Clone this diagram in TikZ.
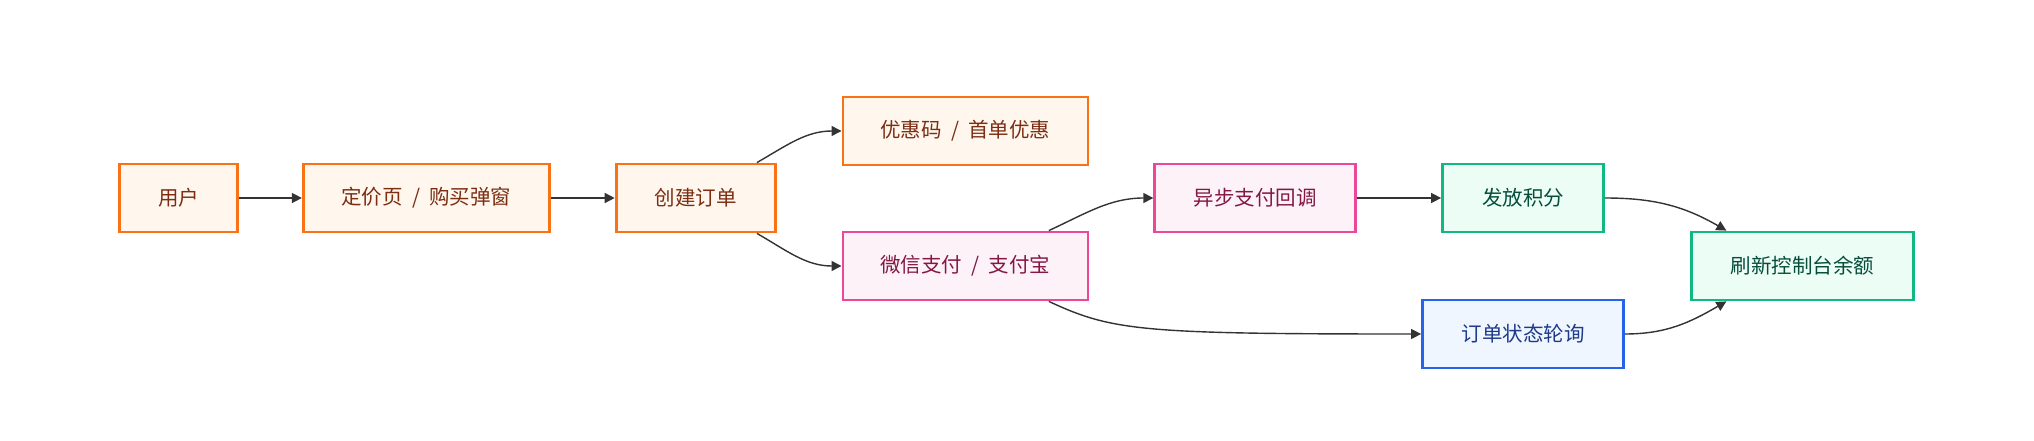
\documentclass[tikz,border=0pt]{standalone}
\usepackage{fontspec}
\setmainfont[WordSpace=2.0]{Noto Sans CJK SC}
\usetikzlibrary{arrows.meta,positioning,calc}
\definecolor{edgegray}{RGB}{51,51,51}
\definecolor{orangeline}{HTML}{F97316}
\definecolor{orangefill}{HTML}{FFF7ED}
\definecolor{orangetext}{HTML}{7C2D12}
\definecolor{pinkline}{HTML}{EC4899}
\definecolor{pinkfill}{HTML}{FDF2F8}
\definecolor{pinktext}{HTML}{831843}
\definecolor{greenline}{HTML}{10B981}
\definecolor{greenfill}{HTML}{ECFDF5}
\definecolor{greentext}{HTML}{064E3B}
\definecolor{blueline}{HTML}{2563EB}
\definecolor{bluefill}{HTML}{EFF6FF}
\definecolor{bluetext}{HTML}{1E3A8A}

\begin{document}
\begin{tikzpicture}[
  x=1pt,
  y=1pt,
  node distance=64pt,
  box/.style={
    draw,
    line width=2.8pt,
    minimum height=68pt,
    inner sep=0pt,
    align=center,
    font=\fontsize{20.5}{24}\selectfont
  },
  orangebox/.style={box,draw=orangeline,fill=orangefill,text=orangetext},
  pinkbox/.style={box,draw=pinkline,fill=pinkfill,text=pinktext},
  greenbox/.style={box,draw=greenline,fill=greenfill,text=greentext},
  bluebox/.style={box,draw=blueline,fill=bluefill,text=bluetext},
  flow/.style={
    -{Triangle[length=10pt,width=10pt]},
    line width=1.4pt,
    edgegray
  }
]
\useasboundingbox (0,0) rectangle (2034,-441);

\node[orangebox,minimum width=118pt] (user) at (178.5,-198) {用户};
\node[orangebox,minimum width=246pt,right=63pt of user] (pricing) {定价页 / 购买弹窗};
\node[orangebox,minimum width=159pt,right=of pricing] (order) {创建订单};
\node[orangebox,minimum width=245pt,right=65pt of order,yshift=67pt] (coupon) {优惠码 / 首单优惠};
\node[pinkbox,minimum width=245pt,right=65pt of order,yshift=-68pt] (pay) {微信支付 / 支付宝};
\node[pinkbox,minimum width=201pt,right=of pay,yshift=68pt] (callback) {异步支付回调};
\node[bluebox,minimum width=201pt,right=of callback,yshift=-136pt] (polling) {订单状态轮询};
\node[greenbox,minimum width=161pt] (points) at (polling |- callback) {发放积分};
\node[greenbox,minimum width=222pt,right=65pt of polling,yshift=68pt] (refresh) {刷新控制台余额};

% main line
\draw[flow] (user) -- (pricing);
\draw[flow] (pricing) -- (order);

% order branches
\draw[flow] (order.30) to[out=30,in=180] (coupon.west);
\draw[flow] (order.-30) to[out=-30,in=180] (pay.west);

% payment result
\draw[flow] (pay.23) to[out=25,in=180] (callback.west);
\draw[flow] (pay.-23)
  to[out=-25,in=180,out distance=70pt,in distance=280pt]
  (polling.west);
\draw[flow] (callback) -- (points);

% refresh
\draw[flow] (points.east) to[out=0,in=150] (refresh.155);
\draw[flow] (polling.east) to[out=0,in=210] (refresh.205);

\end{tikzpicture}
\end{document}
